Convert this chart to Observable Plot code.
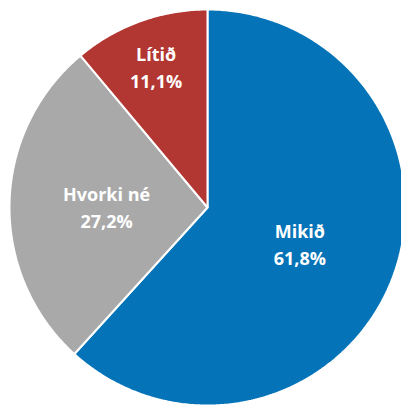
<!DOCTYPE html>
<html><head><meta charset="utf-8">
<script src="https://cdn.jsdelivr.net/npm/d3@7"></script>
<script src="https://cdn.jsdelivr.net/npm/@observablehq/plot@0.6"></script>
<style>body{margin:0;background:#fff;overflow:hidden}</style>
</head><body><div id="chart"></div>
<script>
const categories = ["Mikið", "Hvorki né", "Lítið"];
const values = [61.8, 27.2, 11.1];
const colors = ["#0473B7", "#A9A9A9", "#B23631"];

const labelRadius = {"Mikið": 0.5, "Hvorki né": 0.51, "Lítið": 0.76};

const data = categories.map((c, i) => ({category: c, value: values[i]}));
const arcs = d3.pie().sort(null).value(d => d.value)(data);

// polygon points for each slice
const pts = [];
for (const a of arcs) {
  const c = a.data.category;
  pts.push({category: c, x: 0, y: 0});
  const n = Math.max(4, Math.ceil((a.endAngle - a.startAngle) / 0.01));
  for (let k = 0; k <= n; k++) {
    const t = a.startAngle + (a.endAngle - a.startAngle) * k / n;
    pts.push({category: c, x: Math.sin(t), y: Math.cos(t)});
  }
  pts.push({category: c, x: 0, y: 0});
}
const labels = arcs.map(a => {
  const c = a.data.category;
  const m = (a.startAngle + a.endAngle) / 2;
  const r = labelRadius[c];
  return {category: c, x: r * Math.sin(m), y: r * Math.cos(m),
    text: c + "\n" + a.data.value.toFixed(1).replace(".", ",") + "%"};
});

const chart = Plot.plot({
  width: 401, height: 406,
  marginLeft: 9, marginRight: -4, marginTop: 9, marginBottom: 1,
  x: {domain: [-1, 1], axis: null},
  y: {domain: [-1, 1], axis: null},
  color: {domain: categories, range: colors},
  style: {background: "white"},
  marks: [
    Plot.line(pts, {x: "x", y: "y", z: "category", fill: "category", stroke: "white", strokeWidth: 2, strokeLinejoin: "miter", curve: "linear"}),
    Plot.text(labels, {x: "x", y: "y", text: "text", fill: "white", fontSize: 18, fontWeight: "bold", fontFamily: "Open Sans", lineHeight: 1.5})
  ]
});
document.getElementById("chart").appendChild(chart);
</script></body></html>
